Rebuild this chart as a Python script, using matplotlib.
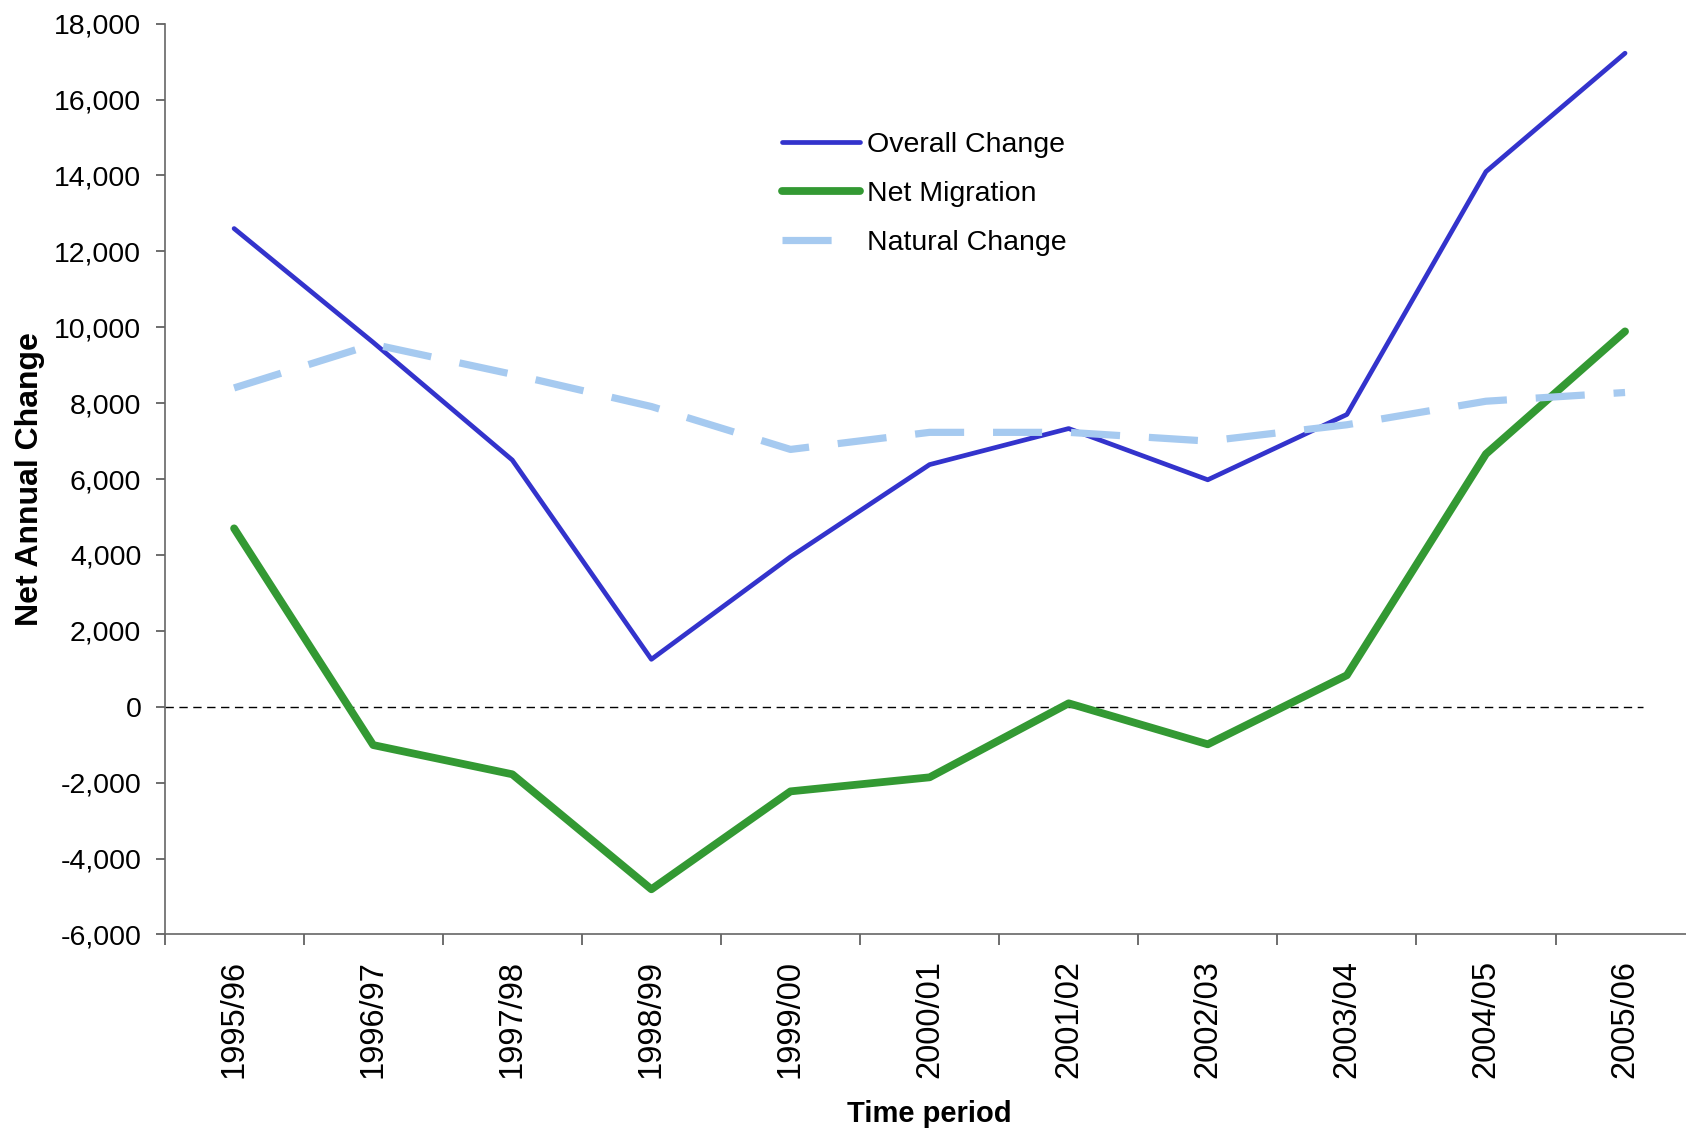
import matplotlib
matplotlib.use("Agg")
import matplotlib.pyplot as plt
from matplotlib.ticker import FuncFormatter, FixedLocator

plt.rcParams['font.family'] = ['Liberation Sans', 'DejaVu Sans']

periods = ["1995/96", "1996/97", "1997/98", "1998/99", "1999/00", "2000/01",
           "2001/02", "2002/03", "2003/04", "2004/05", "2005/06"]
overall_change = [12600, 9600, 6500, 1250, 3950, 6380, 7330, 5980, 7700, 14100, 17220]
net_migration = [4700, -1010, -1780, -4810, -2230, -1860, 90, -990, 830, 6660, 9890]
natural_change = [8400, 9550, 8760, 7910, 6780, 7230, 7230, 7000, 7430, 8050, 8280]
y_ticks = list(range(-6000, 18001, 2000))

fig = plt.figure(figsize=(16.86, 11.35), dpi=100)
ax = fig.add_axes([0.0976, 0.1767, 0.9075, 0.8025])

x = list(range(len(periods)))

ax.hlines(0, -0.5, 10.13, colors='black', linewidth=1.0, linestyles=(0, (6, 4)), zorder=1)
ax.plot(x, overall_change, color='#3333CC', linewidth=3.4, label='Overall Change',
        solid_capstyle='round', zorder=3)
ax.plot(x, net_migration, color='#339933', linewidth=5.6, label='Net Migration',
        solid_capstyle='round', zorder=4)
ax.plot(x, natural_change, color='#A6CAF0', linewidth=5.2, label='Natural Change',
        dashes=(6.8, 4), dash_capstyle='butt', zorder=5)

ax.set_xlim(-0.5, len(periods) - 0.5)
ax.set_ylim(-6000, 18000)

ax.set_yticks(y_ticks)
ax.yaxis.set_major_formatter(FuncFormatter(lambda v, p: f"{int(v):,}"))

ax.set_xticks(x)
ax.set_xticklabels(periods, rotation=90, fontsize=23.5, va='top', ha='center')
ax.xaxis.set_minor_locator(FixedLocator([i - 0.5 for i in range(len(periods) + 1)]))
ax.tick_params(axis='x', which='major', length=0, pad=18.5)
ax.tick_params(axis='x', which='minor', length=8, width=1.2, direction='out', color='#555555')
ax.tick_params(axis='y', which='major', length=6.7, width=1.2, direction='out', color='#555555',
               labelsize=20.5, pad=10)

for s in ['top', 'right']:
    ax.spines[s].set_visible(False)
for s in ['left', 'bottom']:
    ax.spines[s].set_color('#666666')
    ax.spines[s].set_linewidth(1.2)

ax.set_ylabel('Net Annual Change', fontsize=23, fontweight='bold', va='center')
ax.yaxis.set_label_coords(-0.0879, 0.5)
ax.set_xlabel('Time period', fontsize=21, fontweight='bold', va='center')
ax.xaxis.set_label_coords(0.5, -0.197)

fig.legend(loc='upper left', bbox_to_anchor=(0.4638, 0.8835), frameon=False,
           fontsize=20.5, handlelength=2.74, handletextpad=0.25, labelspacing=0.81,
           borderpad=0, borderaxespad=0)

fig.savefig('out.png', dpi=100)
